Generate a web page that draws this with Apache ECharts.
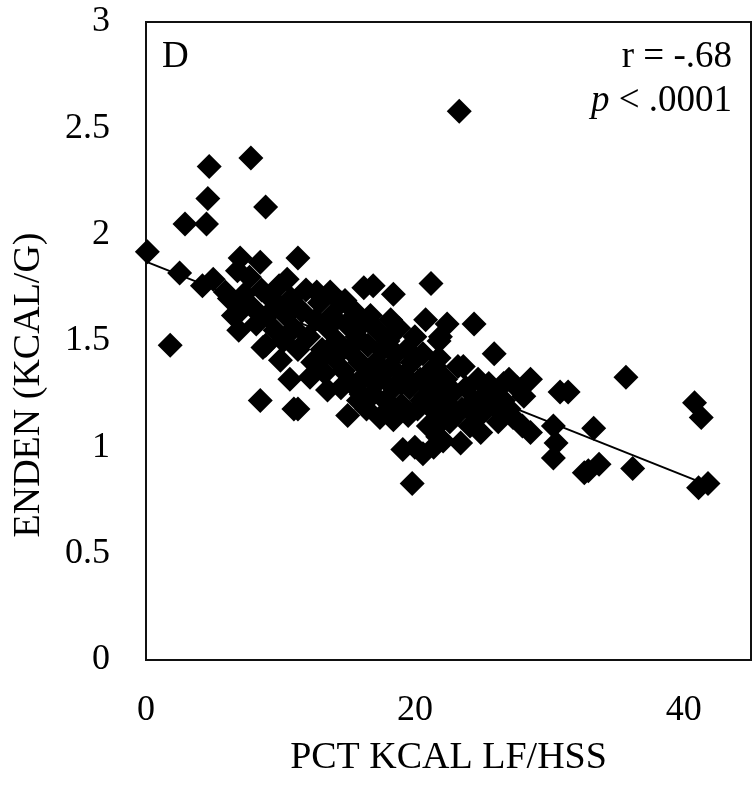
<!DOCTYPE html>
<html>
<head>
<meta charset="utf-8">
<script src="https://cdn.jsdelivr.net/npm/echarts@6/dist/echarts.min.js"></script>
<style>
  html, body { margin: 0; padding: 0; background: #fff; }
  #chart { width: 752px; height: 785px; }
</style>
</head>
<body>
<div id="chart"></div>
<script>
// % kcal from LF/HSS (x) vs energy density (y)
const pctKcal = [
  23.3, 4.7, 7.8, 4.6, 8.9, 2.9, 4.5, 0.1, 2.5, 1.8, 4.2, 5.0, 5.9, 7.0, 8.5, 6.8, 7.7, 7.0, 6.9, 8.9,
  10.5, 10.0, 11.3, 21.2, 18.4, 16.9, 16.2, 13.7, 12.7, 20.8, 21.9, 22.4, 18.2, 11.3, 15.0, 19.1, 20.0, 20.6, 19.8, 12.2,
  13.5, 14.5, 17.4, 18.4, 21.7, 22.1, 8.5, 11.0, 10.0, 10.7, 8.7, 24.4, 25.9, 23.6, 26.6, 28.6, 30.8, 31.4, 28.1, 27.3,
  28.6, 30.3, 30.5, 30.3, 33.3, 32.9, 33.7, 32.6, 23.4, 24.9, 35.7, 40.8, 41.3, 36.2, 41.1, 41.8, 22.1, 21.4, 21.8, 27.0,
  6.2, 6.5, 7.3, 7.9, 8.2, 8.6, 9.0, 9.3, 9.6, 9.9, 10.2, 10.4, 10.8, 11.0, 11.3, 11.6, 11.9, 12.1, 12.4, 12.6,
  12.9, 13.1, 13.3, 13.5, 13.8, 14.0, 14.2, 14.5, 14.7, 14.9, 15.1, 15.3, 15.5, 15.7, 15.9, 16.1,
  16.3, 16.5, 16.7, 16.9, 17.1, 17.2, 17.4, 17.6, 17.8, 18.0, 18.2, 18.4, 18.6, 18.8, 19.0, 19.2, 19.4, 19.6, 19.8, 20.0,
  20.2, 20.4, 20.6, 20.8, 21.0, 21.2, 21.4, 21.6, 21.8, 22.0, 22.3, 22.6, 22.9, 23.2, 23.5, 23.8, 24.1, 24.4,
  24.7, 25.0, 25.4, 25.8, 26.2, 26.6, 27.0, 27.6, 28.0, 14.8, 15.8, 16.4,
  19.5, 20.5, 21.5, 22.5, 23.0, 18.5, 17.0, 16.0, 24.5, 25.5, 26.0, 12.8, 13.9, 21.0, 19.0
]
const enden = [
  2.58, 2.32, 2.36, 2.17, 2.13, 2.05, 2.05, 1.92, 1.82, 1.48, 1.76, 1.79, 1.73, 1.89, 1.87, 1.83, 1.80, 1.64, 1.55, 1.48,
  1.79, 1.66, 1.89, 1.77, 1.72, 1.76, 1.75, 1.73, 1.73, 1.60, 1.52, 1.58, 1.60, 1.18, 1.15, 0.99, 1.00, 0.97, 0.83, 1.33,
  1.27, 1.28, 1.14, 1.13, 1.05, 1.13, 1.22, 1.18, 1.41, 1.32, 1.47, 1.58, 1.44, 1.38, 1.30, 1.32, 1.26, 1.26, 1.24, 1.14,
  1.07, 1.10, 1.02, 0.95, 1.09, 0.89, 0.92, 0.88, 1.02, 1.07, 1.33, 1.21, 1.14, 0.90, 0.81, 0.83, 1.03, 1.00, 1.50, 1.32,
  1.70, 1.62, 1.72, 1.66, 1.58, 1.74, 1.62, 1.70, 1.55, 1.76, 1.50, 1.62, 1.70, 1.56, 1.46, 1.64, 1.74, 1.52, 1.40, 1.60,
  1.68, 1.46, 1.35, 1.56, 1.62, 1.42, 1.50, 1.68, 1.36, 1.58, 1.46, 1.30, 1.64, 1.52, 1.40, 1.58,
  1.34, 1.48, 1.62, 1.25, 1.40, 1.55, 1.32, 1.46, 1.22, 1.50, 1.38, 1.28, 1.44, 1.56, 1.20, 1.34, 1.46, 1.28, 1.40, 1.52,
  1.18, 1.32, 1.44, 1.24, 1.10, 1.36, 1.28, 1.16, 1.42, 1.22, 1.32, 1.12, 1.26, 1.38, 1.18, 1.28, 1.10, 1.22,
  1.32, 1.16, 1.26, 1.20, 1.12, 1.22, 1.18, 1.28, 1.10, 1.69, 1.22, 1.18,
  1.15, 1.22, 1.38, 1.20, 1.15, 1.18, 1.30, 1.25, 1.15, 1.30, 1.25, 1.40, 1.45, 1.20, 1.30
]
// fitted line, end points
const trendX = [0, 41.1]
const trendY = [1.873, 0.84]

const xTicks = [0, 20, 40]
const yTicks = [0, 0.5, 1, 1.5, 2, 2.5, 3]

const serif = "'Liberation Serif', 'Times New Roman', serif"

const points = pctKcal.map((x, i) => [x, enden[i]])
const trend = trendX.map((x, i) => [x, trendY[i]])

const chart = echarts.init(document.getElementById('chart'))

const labelFont = { fontFamily: serif, fontSize: 37, fontWeight: 'normal', color: '#000' }

const option = {
  animation: false,
  backgroundColor: '#fff',
  title: [
    { text: 'D', left: 157, top: 34, textStyle: labelFont },
    { text: 'r = -.68', right: 15, top: 34, textStyle: labelFont },
    {
      text: '{i|p} < .0001',
      right: 15,
      top: 78,
      textStyle: Object.assign({}, labelFont, {
        rich: { i: Object.assign({}, labelFont, { fontStyle: 'italic' }) }
      })
    }
  ],
  grid: {
    left: 146,
    top: 22,
    right: 1,
    bottom: 125,
    show: true,
    borderColor: '#111',
    borderWidth: 2,
    backgroundColor: 'transparent'
  },
  xAxis: {
    type: 'value',
    min: 0,
    max: 45,
    interval: 20,
    name: 'PCT KCAL LF/HSS',
    nameLocation: 'middle',
    nameGap: 79,
    nameTextStyle: { fontFamily: serif, fontSize: 38, color: '#000' },
    axisLine: { show: false },
    axisTick: { show: false },
    splitLine: { show: false },
    axisLabel: {
      margin: 33,
      fontFamily: serif,
      fontSize: 36,
      color: '#000',
      showMaxLabel: false,
      formatter: v => (xTicks.indexOf(v) >= 0 ? String(v) : '')
    }
  },
  yAxis: {
    type: 'value',
    min: 0,
    max: 3,
    interval: 0.5,
    name: 'ENDEN (KCAL/G)',
    nameLocation: 'middle',
    nameGap: 98,
    nameTextStyle: { fontFamily: serif, fontSize: 38, color: '#000', padding: [0, 88, 0, 0] },
    axisLine: { show: false },
    axisTick: { show: false },
    splitLine: { show: false },
    axisLabel: {
      margin: 36,
      fontFamily: serif,
      fontSize: 36,
      color: '#000',
      formatter: v => (yTicks.indexOf(v) >= 0 ? String(v) : '')
    }
  },
  series: [
    {
      type: 'line',
      data: trend,
      showSymbol: false,
      symbol: 'none',
      lineStyle: { color: '#000', width: 2 },
      z: 1
    },
    {
      type: 'scatter',
      data: points,
      symbol: 'diamond',
      symbolSize: 25,
      itemStyle: { color: '#000', opacity: 1 },
      z: 2
    }
  ]
}

chart.setOption(option)
</script>
</body>
</html>
